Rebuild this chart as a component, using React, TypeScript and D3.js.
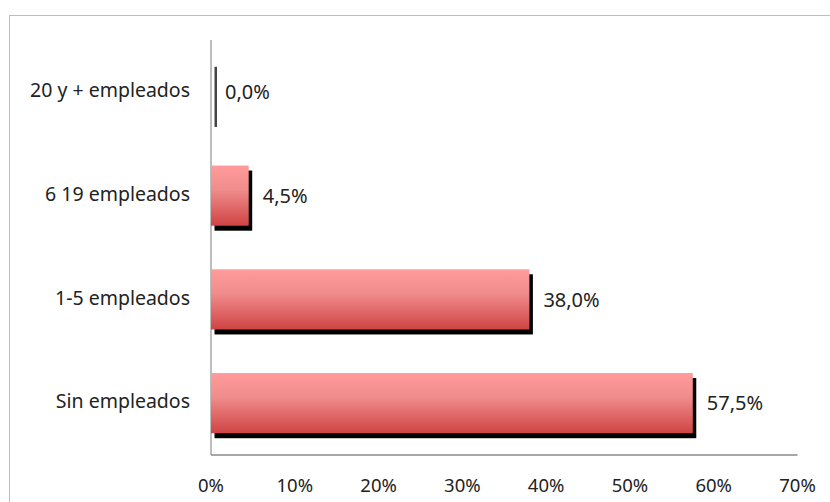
import React from "react";
import * as d3 from "d3";

const categories = ["20 y + empleados", "6 19 empleados", "1-5 empleados", "Sin empleados"];
const values = [0.0, 4.5, 38.0, 57.5];
const valueLabels = ["0,0%", "4,5%", "38,0%", "57,5%"];
const xTicks = [0, 10, 20, 30, 40, 50, 60, 70];

const W = 830;
const H = 502;
const plot = { left: 211, right: 797.5, top: 40, bottom: 455 };
const FONT = "'Noto Sans', 'DejaVu Sans', sans-serif";

export default function App() {
  const x = d3.scaleLinear().domain([0, 70]).range([plot.left, plot.right]);
  const y = d3
    .scaleBand<string>()
    .domain(categories)
    .range([plot.top, plot.bottom])
    .paddingInner(0.42)
    .paddingOuter(0.21);
  const bw = y.bandwidth();

  return (
    <svg
      width={W}
      height={H}
      style={{ position: "absolute", left: 0, top: 0, background: "#fff" }}
    >
      <defs>
        <linearGradient id="barGrad" x1="0" y1="0" x2="0" y2="1">
          <stop offset="0%" stopColor="#ff9b9b" />
          <stop offset="40%" stopColor="#f08c8c" />
          <stop offset="100%" stopColor="#d04444" />
        </linearGradient>
      </defs>
      <rect x={9.5} y={15.5} width={W} height={H} fill="#fff" stroke="#bdbdbd" strokeWidth={1} />

      {/* axes */}
      <line x1={plot.left} x2={plot.left} y1={plot.top} y2={plot.bottom} stroke="#9a9a9a" strokeWidth={1.3} />
      <line x1={plot.left} x2={plot.right} y1={plot.bottom} y2={plot.bottom} stroke="#8a8a8a" strokeWidth={1.3} />

      {categories.map((c, i) => {
        const y0 = y(c)!;
        const w = x(values[i]) - x(0);
        return (
          <g key={c}>
            <rect
              x={x(0) + 3.5}
              y={y0 + 5}
              width={Math.max(w, 2.5)}
              height={bw}
              fill={w > 0 ? "#000" : "#444"}
            />
            {w > 0 && <rect x={x(0)} y={y0} width={w} height={bw} fill="url(#barGrad)" />}
            <text
              x={x(values[i]) + 14}
              y={y0 + bw / 2 + 2}
              dominantBaseline="middle"
              fontFamily={FONT}
              fontSize={20}
              fill="#222"
            >
              {valueLabels[i]}
            </text>
            <text
              x={190}
              y={y0 + bw / 2}
              dominantBaseline="middle"
              textAnchor="end"
              fontFamily={FONT}
              fontSize={19.5}
              fill="#222"
            >
              {c}
            </text>
          </g>
        );
      })}

      {xTicks.map((t) => (
        <text
          key={t}
          x={x(t)}
          y={487}
          dominantBaseline="middle"
          textAnchor="middle"
          fontFamily={FONT}
          fontSize={18.5}
          fill="#222"
        >
          {t + "%"}
        </text>
      ))}
    </svg>
  );
}
